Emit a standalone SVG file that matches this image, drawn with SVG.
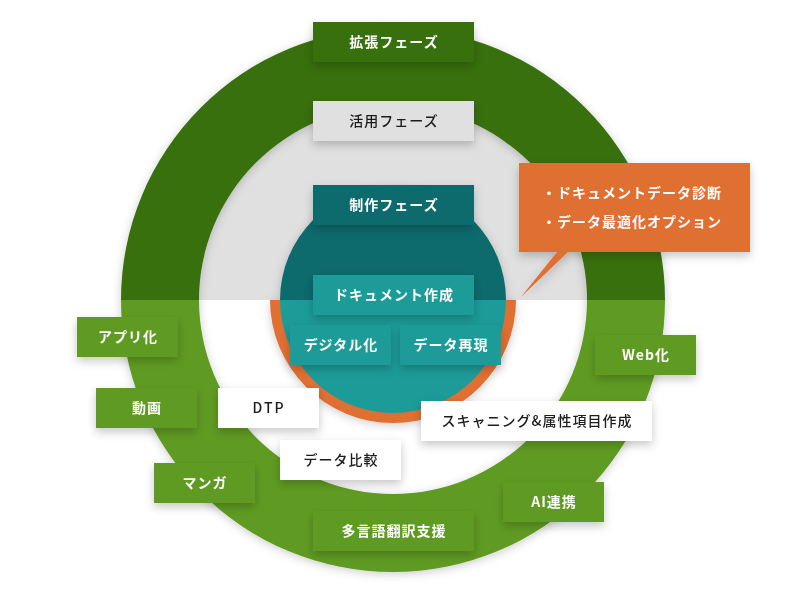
<svg xmlns="http://www.w3.org/2000/svg" width="786" height="592" viewBox="0 0 786 592">
<defs>
<style>
text{font-family:"Noto Sans CJK JP","Noto Sans",sans-serif;font-size:14px;letter-spacing:1px;text-anchor:middle}
.w{fill:#ffffff;font-weight:700}
.k{fill:#1a1a1a;font-weight:500}
.dg{fill:#387010}
.lg{fill:#5f9b20}
.gr{fill:#e0e0e0}
.wh{fill:#ffffff}
.tl{fill:#1f9b99}
.td{fill:#0f6b6d}
.or{fill:#e07033}
</style>
<filter id="ds" x="-30%" y="-40%" width="160%" height="200%">
<feDropShadow dx="0" dy="4" stdDeviation="5" flood-color="#000" flood-opacity="0.22"/>
</filter>
<filter id="rs" x="-10%" y="-10%" width="120%" height="120%">
<feDropShadow dx="0" dy="2" stdDeviation="5" flood-color="#000" flood-opacity="0.2"/>
</filter>
</defs>

<g id="background">
<path class="gr" d="M199 300 A194 194 0 0 1 587 300 Z"/>
<path class="wh" d="M199 300 A194 194 0 0 0 587 300 Z"/>
<g filter="url(#rs)">
<path class="dg" d="M121 300 A272 272 0 0 1 665 300 L587 300 A194 194 0 0 0 199 300 Z"/>
<path class="lg" d="M121 300 A272 272 0 0 0 665 300 L587 300 A194 194 0 0 1 199 300 Z"/>
</g>
<g filter="url(#rs)">
<path class="or" d="M270 300 A123 123 0 0 0 516 300 Z"/>
<path class="td" d="M280 300 A113 113 0 0 1 506 300 Z"/>
<path class="tl" d="M280 300 A113 113 0 0 0 506 300 Z"/>
</g>
</g>

<g id="connectors"></g>

<g id="n-kakuchou" filter="url(#ds)"><rect class="dg" x="313" y="22" width="161" height="40"/><text class="w" x="394" y="47">拡張フェーズ</text></g>
<g id="n-katsuyou" filter="url(#ds)"><rect class="gr" x="313" y="101" width="161" height="40"/><text class="k" x="394" y="126">活用フェーズ</text></g>
<g id="n-seisaku" filter="url(#ds)"><rect class="td" x="313" y="185" width="161" height="40"/><text class="w" x="394" y="210">制作フェーズ</text></g>
<g id="n-doc" filter="url(#ds)"><rect class="tl" x="313" y="275" width="161" height="40"/><text class="w" x="394" y="300">ドキュメント作成</text></g>
<g id="n-digital" filter="url(#ds)"><rect class="tl" x="290" y="325" width="101" height="40"/><text class="w" x="341" y="350">デジタル化</text></g>
<g id="n-saigen" filter="url(#ds)"><rect class="tl" x="400" y="325" width="101" height="40"/><text class="w" x="451" y="350">データ再現</text></g>

<g id="n-callout" filter="url(#ds)">
<path class="or" d="M519 163 H750 V252 H568 L521 297 L557 252 H519 Z"/>
<text class="w" x="542" y="198" style="text-anchor:start">・ドキュメントデータ診断</text>
<text class="w" x="542" y="227" style="text-anchor:start">・データ最適化オプション</text>
</g>

<g id="n-app" filter="url(#ds)"><rect class="lg" x="77" y="317" width="101" height="40"/><text class="w" x="128" y="342">アプリ化</text></g>
<g id="n-douga" filter="url(#ds)"><rect class="lg" x="96" y="388" width="101" height="40"/><text class="w" x="147" y="413">動画</text></g>
<g id="n-manga" filter="url(#ds)"><rect class="lg" x="154" y="463" width="101" height="40"/><text class="w" x="205" y="488">マンガ</text></g>
<g id="n-dtp" filter="url(#ds)"><rect class="wh" x="218" y="388" width="101" height="40"/><text class="k" x="269" y="413" style="letter-spacing:2px">DTP</text></g>
<g id="n-hikaku" filter="url(#ds)"><rect class="wh" x="280" y="440" width="121" height="40"/><text class="k" x="341" y="465">データ比較</text></g>
<g id="n-tagengo" filter="url(#ds)"><rect class="lg" x="313" y="511" width="161" height="40"/><text class="w" x="394" y="536">多言語翻訳支援</text></g>
<g id="n-ai" filter="url(#ds)"><rect class="lg" x="503" y="482" width="101" height="40"/><text class="w" x="554" y="507">AI連携</text></g>
<g id="n-scan" filter="url(#ds)"><rect class="wh" x="421" y="401" width="231" height="40"/><text class="k" x="537" y="426">スキャニング&amp;属性項目作成</text></g>
<g id="n-web" filter="url(#ds)"><rect class="lg" x="595" y="335" width="101" height="40"/><text class="w" x="646" y="360">Web化</text></g>
</svg>
